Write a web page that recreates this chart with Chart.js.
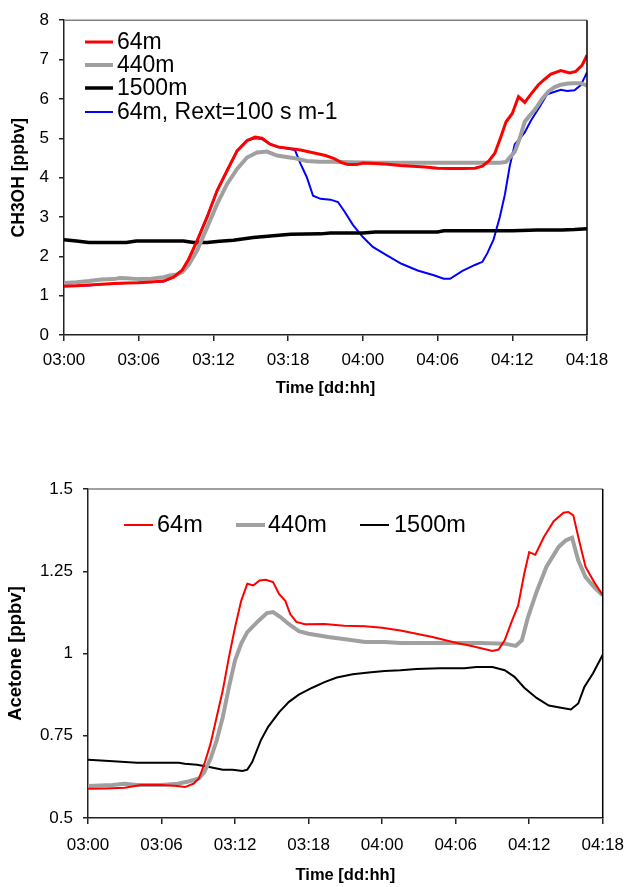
<!DOCTYPE html>
<html>
<head>
<meta charset="utf-8">
<script src="https://cdn.jsdelivr.net/npm/chart.js@4.4.0/dist/chart.umd.min.js"></script>
<style>
  html, body { margin: 0; padding: 0; background: #fff; }
  body { width: 635px; height: 887px; position: relative; overflow: hidden; }
  #c1 { position: absolute; left: 0; top: 0; }
  #c2 { position: absolute; left: 0; top: 400px; }
</style>
</head>
<body>
<canvas id="c1" width="635" height="400" style="width:635px;height:400px"></canvas>
<canvas id="c2" width="635" height="487" style="width:635px;height:487px"></canvas>
<script>
// ---- shared x axis (hours since 03:00) ----
const xTickLabels = ['03:00', '03:06', '03:12', '03:18', '04:00', '04:06', '04:12', '04:18'];

// ---- CH3OH panel ----
const methLabels = ['64m', '440m', '1500m', '64m, Rext=100 s m-1'];
const meth64T = [0,1,2,3,4,5,6,7,8,8.8,9.5,10,10.7,11.5,12.3,13.1,13.9,14.7,15.35,15.9,16.55,17.2,18.4,19,20,21,21.7,22.3,22.8,23.5,24,25,26,27,28,29,30,31,32,33,33.6,34.1,34.6,35.1,35.5,36.0,36.5,37.0,37.5,38.1,38.6,39.1,39.9,40.6,41.1,41.6,42];
const meth64V = [1.24,1.25,1.27,1.29,1.31,1.32,1.33,1.35,1.37,1.47,1.65,1.92,2.4,3.0,3.67,4.18,4.68,4.94,5.03,5.0,4.85,4.78,4.73,4.70,4.63,4.56,4.48,4.38,4.33,4.33,4.37,4.36,4.34,4.31,4.29,4.27,4.24,4.23,4.23,4.24,4.29,4.42,4.62,5.05,5.42,5.63,6.06,5.91,6.12,6.36,6.5,6.63,6.72,6.66,6.70,6.85,7.11];
const meth440T = [0,1,2,3,4,4.5,5,6,7,8,8.5,9,9.5,10,10.7,11.5,12.3,13.1,13.9,14.7,15.5,16.3,17.1,18.4,19.5,20.5,21.5,23,25,27,29,31,33,35,35.5,36.2,36.6,37.0,37.4,37.8,38.4,38.9,39.4,39.9,40.5,41,41.5,42];
const meth440V = [1.32,1.34,1.37,1.41,1.42,1.45,1.44,1.42,1.43,1.47,1.51,1.53,1.6,1.78,2.15,2.74,3.33,3.84,4.22,4.51,4.64,4.66,4.56,4.5,4.42,4.40,4.40,4.39,4.38,4.38,4.38,4.38,4.38,4.38,4.40,4.66,5.0,5.42,5.58,5.72,6.0,6.19,6.3,6.36,6.39,6.40,6.40,6.34];
const meth1500T = [0,1,2,3,4,5,5.8,7,8,9.6,10.4,11.5,12.5,13.6,15.2,16.8,18.2,20.6,21.4,24,25,27,30,30.5,33,36,38,40,41,42];
const meth1500V = [2.42,2.39,2.35,2.35,2.35,2.35,2.39,2.39,2.39,2.39,2.35,2.35,2.38,2.41,2.48,2.52,2.56,2.57,2.59,2.59,2.62,2.62,2.62,2.65,2.65,2.65,2.67,2.67,2.68,2.70];
const methRextT = [0,1,2,3,4,5,6,7,8,8.8,9.5,10,10.7,11.5,12.3,13.1,13.9,14.7,15.35,15.9,16.55,17.2,18.0,18.55,19.0,19.5,20.0,20.6,21.4,22.0,22.5,23.2,24.0,24.8,25.9,27.1,28.4,29.7,30.5,31.0,32.0,33.0,33.6,34.0,34.5,35.0,35.4,35.8,36.2,36.5,37.0,37.5,38.1,38.8,39.4,39.9,40.4,41.0,41.5,42];
const methRextV = [1.25,1.25,1.26,1.29,1.30,1.32,1.33,1.34,1.36,1.47,1.66,1.92,2.42,3.02,3.68,4.18,4.68,4.94,5.0,4.98,4.85,4.77,4.73,4.70,4.35,4.01,3.54,3.46,3.44,3.38,3.15,2.8,2.49,2.24,2.03,1.81,1.64,1.52,1.43,1.43,1.63,1.78,1.86,2.08,2.43,3.0,3.56,4.3,4.85,4.95,5.15,5.45,5.75,6.12,6.18,6.23,6.20,6.22,6.35,6.67];
const methYTicks = [0, 1, 2, 3, 4, 5, 6, 7, 8];
const methYTickLabels = ['0', '1', '2', '3', '4', '5', '6', '7', '8'];

// ---- Acetone panel ----
const aceLabels = ['64m', '440m', '1500m'];
const ace64T = [0,1.4,3,4.3,6,7.3,7.9,8.6,9.05,9.5,10,10.5,11,11.5,12,12.5,13,13.5,14,14.5,15.1,15.6,16.1,16.5,17,17.7,19.3,20.9,22.6,24,25.5,26.8,28.1,30.1,31.4,33,33.5,34,34.6,35.1,35.6,36,36.5,37.2,38,38.8,39.2,39.6,40.1,40.6,41.3,42];
const ace64V = [0.589,0.59,0.592,0.60,0.60,0.597,0.594,0.604,0.62,0.665,0.726,0.807,0.888,0.989,1.08,1.16,1.212,1.207,1.222,1.224,1.217,1.18,1.16,1.12,1.096,1.089,1.09,1.084,1.083,1.078,1.07,1.06,1.05,1.032,1.022,1.008,1.012,1.04,1.10,1.146,1.243,1.308,1.30,1.354,1.402,1.428,1.43,1.42,1.339,1.263,1.217,1.177];
const ace440T = [0,2,3,4,6,7.3,8.2,9.05,9.5,10,10.5,11,11.5,12,12.5,13,13.4,13.9,14.6,15.1,15.7,16.4,17.2,18,19.6,21.3,22.6,24.2,25.5,28.7,32,34,34.9,35.4,35.9,36.6,37.4,38.4,39,39.5,40,40.6,41.3,42];
const ace440V = [0.597,0.60,0.604,0.60,0.60,0.604,0.611,0.62,0.64,0.68,0.736,0.807,0.898,0.979,1.03,1.065,1.08,1.099,1.123,1.126,1.111,1.089,1.068,1.06,1.05,1.042,1.035,1.035,1.032,1.032,1.032,1.03,1.023,1.04,1.11,1.187,1.263,1.324,1.344,1.352,1.283,1.232,1.202,1.177];
const ace1500T = [0,1.4,2.7,4,6,7.4,7.9,8.9,9.9,11,11.8,12.6,13,13.4,14.1,14.7,15.6,16.4,17.2,18.3,19.3,20.3,21.6,22.9,24.2,25.5,26.8,28.7,30.7,31.7,33,34,34.8,35.6,36.6,37.6,38.6,39.4,40,40.5,41.2,42];
const ace1500V = [0.677,0.674,0.671,0.668,0.668,0.668,0.665,0.662,0.655,0.647,0.647,0.643,0.647,0.67,0.736,0.777,0.822,0.853,0.875,0.896,0.913,0.927,0.937,0.942,0.947,0.949,0.953,0.955,0.955,0.959,0.959,0.949,0.929,0.896,0.865,0.842,0.835,0.83,0.848,0.898,0.939,0.996];
const aceYTicks = [0.5, 0.75, 1, 1.25, 1.5];
const aceYTickLabels = ['0.5', '0.75', '1', '1.25', '1.5'];

const FONT = "'Liberation Sans', Arial, Helvetica, sans-serif";
const zip = (t, v) => t.map((x, i) => ({ x, y: v[i] }));

function ds(label, t, v, color, width) {
  return { label, data: zip(t, v), borderColor: color, backgroundColor: color,
           borderWidth: width, pointRadius: 0, tension: 0, fill: false };
}

// legend + frame plugin
const framePlugin = {
  id: 'frame',
  afterDatasetsDraw(chart, args, opts) {
    const { ctx, chartArea: a } = chart;
    ctx.save();
    ctx.lineWidth = 1.5;
    ctx.strokeStyle = '#808080';
    ctx.beginPath(); ctx.moveTo(a.left, a.top); ctx.lineTo(a.right, a.top); ctx.stroke();
    ctx.strokeStyle = '#000';
    ctx.beginPath(); ctx.moveTo(a.right, a.top); ctx.lineTo(a.right, a.bottom); ctx.stroke();
    // legend
    ctx.font = opts.fontSize + 'px ' + FONT;
    ctx.textBaseline = 'middle';
    ctx.textAlign = 'left';
    chart.data.datasets.forEach((d, i) => {
      const it = opts.items[i];
      ctx.strokeStyle = d.borderColor;
      ctx.lineWidth = d.borderWidth;
      ctx.beginPath(); ctx.moveTo(it.x0, it.y); ctx.lineTo(it.x1, it.y); ctx.stroke();
      ctx.fillStyle = '#000';
      ctx.fillText(d.label, it.tx, it.y + 1);
    });
    ctx.restore();
  }
};

function xScale(height, pad) {
  return {
    type: 'linear', min: 0, max: 42,
    ticks: { stepSize: 6, color: '#000', padding: pad, maxRotation: 0,
             font: { family: FONT, size: 17 },
             callback: v => xTickLabels[Math.round(v / 6)] },
    grid: { display: true, drawOnChartArea: false, drawTicks: true, tickLength: 6, color: '#222', lineWidth: 1.5 },
    border: { display: true, color: '#222', width: 1.5 },
    title: { display: true, text: 'Time [dd:hh]', color: '#000',
             font: { family: FONT, size: 16.5, weight: 'bold' }, padding: { top: 0, bottom: 2 } },
    afterFit: s => { s.height = height; }
  };
}

function yScale(min, max, vals, labels, width, titleText, titleSize, titlePad) {
  return {
    type: 'linear', min, max,
    afterBuildTicks: s => { s.ticks = vals.map(v => ({ value: v })); },
    ticks: { color: '#000', padding: 10, font: { family: FONT, size: 17 },
             callback: (v, i) => labels[i] },
    grid: { display: true, drawOnChartArea: false, drawTicks: true, tickLength: 5, color: '#222', lineWidth: 1.5 },
    border: { display: true, color: '#222', width: 1.5 },
    title: { display: true, text: titleText, color: '#000',
             font: { family: FONT, size: titleSize, weight: 'bold' }, padding: { top: titlePad, bottom: 0 } },
    afterFit: s => { s.width = width; }
  };
}

new Chart(document.getElementById('c1'), {
  type: 'line',
  data: { datasets: [
    ds(methLabels[0], meth64T, meth64V, '#ff0000', 3),
    ds(methLabels[1], meth440T, meth440V, '#a0a0a0', 4),
    ds(methLabels[2], meth1500T, meth1500V, '#000000', 3.5),
    ds(methLabels[3], methRextT, methRextV, '#0000ff', 2)
  ]},
  options: {
    responsive: false, animation: false, devicePixelRatio: 1,
    layout: { padding: { left: 0, right: 48, top: 20, bottom: 0 } },
    plugins: {
      legend: { display: false }, tooltip: { enabled: false },
      frame: { fontSize: 23, items: [
        { x0: 85, x1: 113, tx: 117, y: 42 },
        { x0: 85, x1: 113, tx: 117, y: 65 },
        { x0: 85, x1: 113, tx: 117, y: 88 },
        { x0: 85, x1: 113, tx: 117, y: 112 }
      ] }
    },
    scales: {
      x: xScale(65, 9),
      y: yScale(0, 8, methYTicks, methYTickLabels, 64, 'CH3OH [ppbv]', 17.5, 9)
    }
  },
  plugins: [framePlugin]
});

new Chart(document.getElementById('c2'), {
  type: 'line',
  data: { datasets: [
    ds(aceLabels[0], ace64T, ace64V, '#ff0000', 2),
    ds(aceLabels[1], ace440T, ace440V, '#a0a0a0', 4),
    ds(aceLabels[2], ace1500T, ace1500V, '#000000', 2)
  ]},
  options: {
    responsive: false, animation: false, devicePixelRatio: 1,
    layout: { padding: { left: 0, right: 25, top: 89, bottom: 0 } },
    plugins: {
      legend: { display: false }, tooltip: { enabled: false },
      frame: { fontSize: 23.5, items: [
        { x0: 124, x1: 153, tx: 157, y: 125 },
        { x0: 236, x1: 265, tx: 268, y: 125 },
        { x0: 360, x1: 389, tx: 394, y: 125 }
      ] }
    },
    scales: {
      x: xScale(69, 11),
      y: yScale(0.5, 1.5, aceYTicks, aceYTickLabels, 88, 'Acetone [ppbv]', 18.5, 5)
    }
  },
  plugins: [framePlugin]
});
</script>
</body>
</html>
